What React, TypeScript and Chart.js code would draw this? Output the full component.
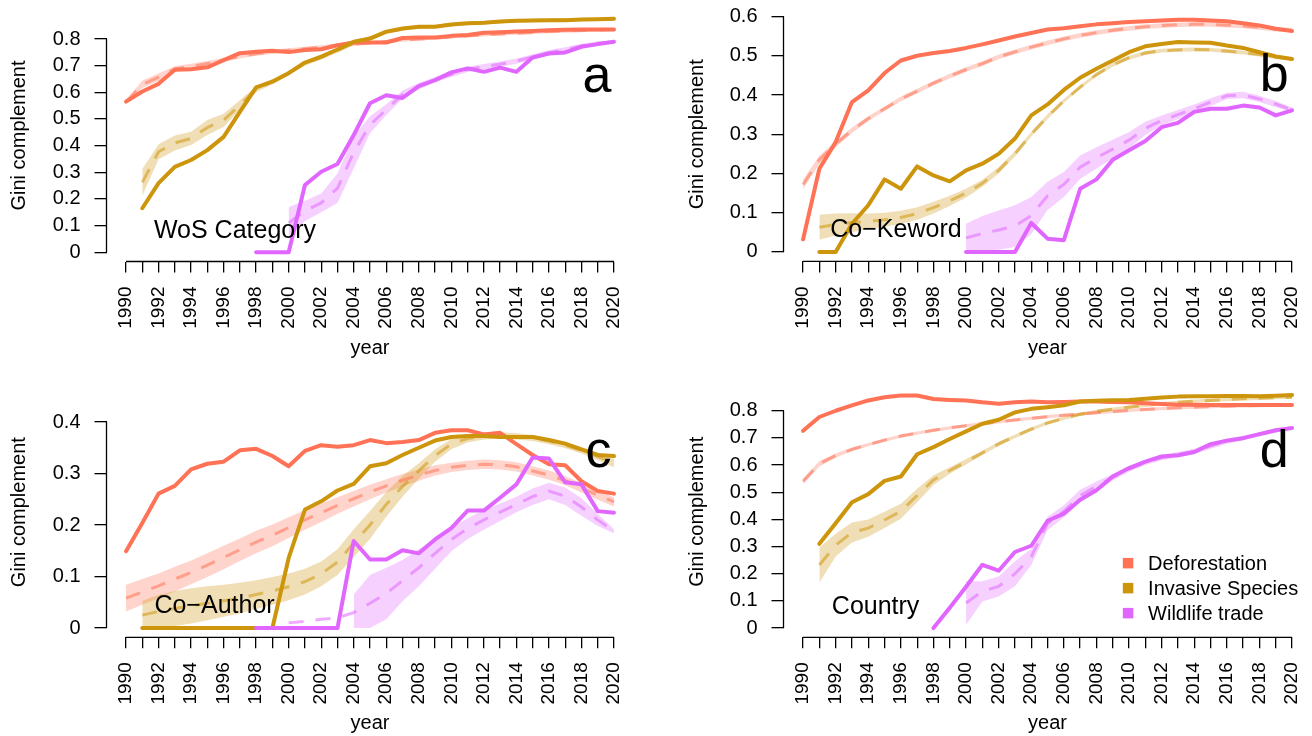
import React, { useEffect, useRef } from "react";
import { Chart, registerables } from "chart.js";

Chart.register(...registerables);

const FONT = "'Liberation Sans', Arimo, Arial, Helvetica, sans-serif";
const N = null;

const YEARS = [
  1990, 1991, 1992, 1993, 1994, 1995, 1996, 1997, 1998, 1999,
  2000, 2001, 2002, 2003, 2004, 2005, 2006, 2007, 2008, 2009,
  2010, 2011, 2012, 2013, 2014, 2015, 2016, 2017, 2018, 2019, 2020,
];

const SERIES_NAMES = ["Deforestation", "Invasive Species", "Wildlife trade"];
const SERIES_COLORS = ["#FF7256", "#CD950C", "#E066FF"];

const Y_TICKS_A = [0, 0.1, 0.2, 0.3, 0.4, 0.5, 0.6, 0.7, 0.8];
const Y_TICKS_B = [0, 0.1, 0.2, 0.3, 0.4, 0.5, 0.6];
const Y_TICKS_C = [0, 0.1, 0.2, 0.3, 0.4];
const Y_TICKS_D = [0, 0.1, 0.2, 0.3, 0.4, 0.5, 0.6, 0.7, 0.8];

// ---------- Panel a : WoS Category ----------
const aDefor = [0.565, 0.603, 0.632, 0.685, 0.687, 0.694, 0.721, 0.747, 0.752, 0.756,
  0.751, 0.759, 0.762, 0.777, 0.787, 0.787, 0.787, 0.804, 0.806, 0.806,
  0.812, 0.815, 0.824, 0.826, 0.828, 0.830, 0.833, 0.835, 0.836, 0.836, 0.836];
const aDeforFit = [0.565, 0.630, 0.657, 0.688, 0.697, 0.708, 0.722, 0.735, 0.745, 0.752,
  0.758, 0.764, 0.770, 0.776, 0.781, 0.786, 0.791, 0.796, 0.800, 0.804,
  0.808, 0.812, 0.816, 0.819, 0.822, 0.825, 0.828, 0.830, 0.832, 0.834, 0.836];
const aDeforHw = [0.004, 0.014, 0.014, 0.010, 0.010, 0.010, 0.008, 0.008, 0.008, 0.008,
  0.008, 0.007, 0.007, 0.007, 0.007, 0.006, 0.006, 0.006, 0.006, 0.006,
  0.006, 0.006, 0.006, 0.006, 0.006, 0.006, 0.006, 0.006, 0.006, 0.006, 0.006];
const aInv = [N, 0.165, 0.259, 0.320, 0.346, 0.383, 0.433, 0.527, 0.619, 0.640,
  0.672, 0.712, 0.734, 0.761, 0.790, 0.802, 0.828, 0.840, 0.846, 0.846,
  0.855, 0.859, 0.861, 0.866, 0.869, 0.870, 0.871, 0.871, 0.873, 0.874, 0.876];
const aInvFit = [N, 0.262, 0.377, 0.410, 0.427, 0.468, 0.495, 0.552, 0.612, 0.640,
  0.674, 0.708, 0.731, 0.757, 0.785, 0.803, 0.826, 0.838, 0.845, 0.848,
  0.854, 0.858, 0.861, 0.865, 0.868, 0.870, 0.871, 0.872, 0.873, 0.874, 0.876];
const aInvHw = [N, 0.050, 0.028, 0.028, 0.025, 0.028, 0.025, 0.018, 0.012, 0.010,
  0.008, 0.008, 0.008, 0.008, 0.008, 0.008, 0.007, 0.007, 0.006, 0.006,
  0.006, 0.006, 0.006, 0.006, 0.006, 0.006, 0.006, 0.006, 0.006, 0.006, 0.006];
const aWild = [N, N, N, N, N, N, N, N, 0, 0,
  0, 0.252, 0.302, 0.331, 0.440, 0.559, 0.589, 0.579, 0.623, 0.646,
  0.675, 0.690, 0.677, 0.693, 0.677, 0.731, 0.746, 0.750, 0.771, 0.781, 0.790];
const aWildFit = [N, N, N, N, N, N, N, N, N, N,
  0.110, 0.155, 0.185, 0.240, 0.375, 0.478, 0.535, 0.592, 0.623, 0.648,
  0.668, 0.686, 0.696, 0.706, 0.717, 0.733, 0.749, 0.761, 0.774, 0.784, 0.790];
const aWildHw = [N, N, N, N, N, N, N, N, N, N,
  0.060, 0.038, 0.035, 0.055, 0.060, 0.032, 0.020, 0.015, 0.012, 0.010,
  0.010, 0.010, 0.010, 0.010, 0.010, 0.010, 0.010, 0.008, 0.008, 0.008, 0.006];

// ---------- Panel b : Co-Keword ----------
const bDefor = [0.032, 0.212, 0.280, 0.382, 0.412, 0.456, 0.488, 0.500, 0.507, 0.512,
  0.520, 0.529, 0.539, 0.549, 0.558, 0.567, 0.570, 0.575, 0.580, 0.583,
  0.586, 0.588, 0.590, 0.592, 0.592, 0.590, 0.588, 0.583, 0.577, 0.569, 0.563];
const bDeforFit = [0.172, 0.235, 0.275, 0.310, 0.340, 0.365, 0.390, 0.410, 0.430, 0.448,
  0.465, 0.480, 0.497, 0.510, 0.522, 0.533, 0.543, 0.552, 0.559, 0.565,
  0.570, 0.574, 0.577, 0.579, 0.580, 0.580, 0.578, 0.576, 0.572, 0.568, 0.565];
const bDeforHw = [0.012, 0.010, 0.008, 0.007, 0.006, 0.006, 0.006, 0.006, 0.006, 0.006,
  0.006, 0.006, 0.006, 0.006, 0.006, 0.006, 0.006, 0.006, 0.006, 0.006,
  0.006, 0.006, 0.006, 0.006, 0.006, 0.006, 0.006, 0.006, 0.006, 0.006, 0.006];
const bInv = [N, 0, 0, 0.072, 0.119, 0.185, 0.161, 0.218, 0.195, 0.180,
  0.208, 0.225, 0.250, 0.289, 0.348, 0.376, 0.413, 0.444, 0.467, 0.488,
  0.509, 0.524, 0.530, 0.535, 0.534, 0.533, 0.526, 0.520, 0.509, 0.498, 0.492];
const bInvFit = [N, 0.063, 0.070, 0.075, 0.078, 0.082, 0.088, 0.098, 0.113, 0.130,
  0.150, 0.175, 0.208, 0.250, 0.300, 0.345, 0.385, 0.420, 0.452, 0.477,
  0.495, 0.507, 0.513, 0.515, 0.516, 0.515, 0.512, 0.508, 0.503, 0.497, 0.492];
const bInvHw = [N, 0.032, 0.028, 0.024, 0.020, 0.018, 0.017, 0.016, 0.015, 0.013,
  0.011, 0.009, 0.008, 0.007, 0.006, 0.006, 0.005, 0.005, 0.005, 0.005,
  0.005, 0.005, 0.005, 0.005, 0.005, 0.005, 0.005, 0.005, 0.005, 0.005, 0.005];
const bWild = [N, N, N, N, N, N, N, N, N, N,
  0, 0, 0, 0, 0.074, 0.034, 0.030, 0.161, 0.185, 0.235,
  0.259, 0.283, 0.318, 0.329, 0.357, 0.365, 0.365, 0.373, 0.368, 0.348, 0.361];
const bWildFit = [N, N, N, N, N, N, N, N, N, N,
  0.036, 0.047, 0.056, 0.066, 0.093, 0.143, 0.172, 0.216, 0.240, 0.262,
  0.285, 0.315, 0.335, 0.350, 0.365, 0.382, 0.398, 0.400, 0.390, 0.377, 0.362];
const bWildHw = [N, N, N, N, N, N, N, N, N, N,
  0.036, 0.045, 0.050, 0.053, 0.047, 0.036, 0.032, 0.030, 0.027, 0.024,
  0.021, 0.017, 0.013, 0.012, 0.011, 0.010, 0.008, 0.008, 0.008, 0.008, 0.006];

// ---------- Panel c : Co-Author ----------
const cDefor = [0.149, 0.204, 0.261, 0.276, 0.308, 0.319, 0.323, 0.345, 0.348, 0.334,
  0.314, 0.344, 0.355, 0.352, 0.355, 0.365, 0.359, 0.361, 0.365, 0.379,
  0.384, 0.384, 0.376, 0.379, 0.357, 0.336, 0.318, 0.316, 0.285, 0.266, 0.261];
const cDeforFit = [0.058, 0.070, 0.082, 0.095, 0.108, 0.122, 0.137, 0.152, 0.167, 0.180,
  0.195, 0.210, 0.224, 0.238, 0.251, 0.264, 0.276, 0.287, 0.297, 0.306,
  0.312, 0.316, 0.318, 0.317, 0.313, 0.305, 0.297, 0.286, 0.272, 0.258, 0.245];
const cDeforHw = [0.026, 0.025, 0.024, 0.024, 0.023, 0.023, 0.023, 0.022, 0.022, 0.021,
  0.020, 0.019, 0.018, 0.016, 0.015, 0.014, 0.013, 0.012, 0.011, 0.010,
  0.009, 0.009, 0.009, 0.009, 0.009, 0.009, 0.009, 0.009, 0.009, 0.009, 0.009];
const cInv = [N, 0, 0, 0, 0, 0, 0, 0, 0, 0,
  0.136, 0.230, 0.246, 0.267, 0.280, 0.314, 0.320, 0.336, 0.350, 0.364,
  0.371, 0.373, 0.373, 0.371, 0.371, 0.371, 0.365, 0.358, 0.347, 0.336, 0.334];
const cInvFit = [N, 0.025, 0.032, 0.038, 0.043, 0.048, 0.053, 0.058, 0.065, 0.072,
  0.080, 0.090, 0.105, 0.128, 0.165, 0.200, 0.240, 0.275, 0.305, 0.335,
  0.357, 0.368, 0.373, 0.374, 0.372, 0.369, 0.363, 0.355, 0.345, 0.333, 0.320];
const cInvHw = [N, 0.028, 0.032, 0.034, 0.034, 0.033, 0.031, 0.030, 0.028, 0.027,
  0.026, 0.025, 0.024, 0.025, 0.027, 0.027, 0.024, 0.020, 0.015, 0.012,
  0.010, 0.008, 0.007, 0.006, 0.006, 0.006, 0.006, 0.006, 0.006, 0.007, 0.008];
const cWild = [N, N, N, N, N, N, N, N, 0, 0,
  0, 0, 0, 0, 0.169, 0.133, 0.133, 0.151, 0.145, 0.172,
  0.194, 0.228, 0.228, 0.253, 0.279, 0.331, 0.329, 0.283, 0.279, 0.227, 0.224];
const cWildFit = [N, N, N, N, N, N, N, N, N, N,
  0.010, 0.013, 0.017, 0.020, 0.030, 0.048, 0.067, 0.092, 0.117, 0.145,
  0.172, 0.193, 0.210, 0.225, 0.240, 0.255, 0.266, 0.256, 0.235, 0.210, 0.188];
const cWildHw = [N, N, N, N, N, N, N, N, N, N,
  N, N, N, N, 0.035, 0.055, 0.050, 0.040, 0.036, 0.030,
  0.023, 0.020, 0.019, 0.017, 0.015, 0.016, 0.016, 0.017, 0.017, 0.012, 0.004];

// ---------- Panel d : Country ----------
const dDefor = [0.726, 0.777, 0.800, 0.820, 0.838, 0.850, 0.856, 0.856, 0.843, 0.840,
  0.838, 0.831, 0.826, 0.831, 0.834, 0.831, 0.832, 0.834, 0.834, 0.832,
  0.831, 0.828, 0.825, 0.822, 0.822, 0.821, 0.821, 0.821, 0.821, 0.821, 0.821];
const dDeforFit = [0.540, 0.605, 0.635, 0.658, 0.675, 0.692, 0.707, 0.718, 0.728, 0.737,
  0.745, 0.752, 0.759, 0.766, 0.772, 0.778, 0.783, 0.788, 0.793, 0.797,
  0.801, 0.805, 0.808, 0.811, 0.813, 0.815, 0.817, 0.818, 0.819, 0.820, 0.821];
const dDeforHw = [0.010, 0.010, 0.008, 0.007, 0.006, 0.006, 0.006, 0.006, 0.006, 0.006,
  0.006, 0.006, 0.006, 0.006, 0.006, 0.006, 0.006, 0.006, 0.006, 0.006,
  0.006, 0.006, 0.006, 0.006, 0.006, 0.006, 0.006, 0.006, 0.006, 0.006, 0.006];
const dInv = [N, 0.310, 0.386, 0.463, 0.493, 0.542, 0.558, 0.640, 0.666, 0.696,
  0.724, 0.752, 0.767, 0.794, 0.807, 0.813, 0.820, 0.834, 0.837, 0.839,
  0.840, 0.844, 0.849, 0.852, 0.853, 0.853, 0.854, 0.854, 0.853, 0.855, 0.858];
const dInvFit = [N, 0.232, 0.305, 0.352, 0.368, 0.398, 0.430, 0.488, 0.545, 0.580,
  0.612, 0.645, 0.678, 0.706, 0.732, 0.755, 0.772, 0.787, 0.798, 0.806,
  0.813, 0.820, 0.826, 0.831, 0.835, 0.838, 0.841, 0.844, 0.846, 0.848, 0.850];
const dInvHw = [N, 0.065, 0.042, 0.037, 0.032, 0.030, 0.028, 0.025, 0.018, 0.012,
  0.010, 0.008, 0.008, 0.007, 0.007, 0.006, 0.006, 0.006, 0.006, 0.006,
  0.006, 0.006, 0.006, 0.006, 0.006, 0.006, 0.006, 0.006, 0.006, 0.006, 0.006];
const dWild = [N, N, N, N, N, N, N, N, 0, 0.075,
  0.152, 0.233, 0.211, 0.280, 0.303, 0.395, 0.421, 0.472, 0.507, 0.558,
  0.589, 0.613, 0.632, 0.636, 0.648, 0.677, 0.690, 0.699, 0.714, 0.728, 0.736];
const dWildFit = [N, N, N, N, N, N, N, N, N, N,
  0.092, 0.135, 0.153, 0.200, 0.262, 0.385, 0.430, 0.487, 0.522, 0.555,
  0.585, 0.610, 0.628, 0.638, 0.650, 0.670, 0.688, 0.700, 0.713, 0.727, 0.738];
const dWildHw = [N, N, N, N, N, N, N, N, N, N,
  0.080, 0.037, 0.037, 0.046, 0.030, 0.025, 0.022, 0.022, 0.018, 0.012,
  0.010, 0.010, 0.010, 0.010, 0.010, 0.010, 0.010, 0.008, 0.008, 0.008, 0.006];

type Vals = (number | null)[];

interface Panel {
  key: string;
  letter: string;
  label: string;
  left: number;
  top: number;
  width: number;
  height: number;
  chartLeft: number;
  chartRight: number;
  chartTop: number;
  chartBottom: number;
  yMin: number;
  yMax: number;
  yTicks: number[];
  solid: Vals[];
  fit: Vals[];
  hw: Vals[];
  labelAt: [number, number];
  letterAt: [number, number];
  legendAt?: [number, number];
  yTitlePad: number;
  xTitlePad: number;
}

const PANELS: Panel[] = [
  {
    key: "a", letter: "a", label: "WoS Category",
    left: 0, top: 0, width: 656, height: 368,
    chartLeft: 106.5, chartRight: 633.5, chartTop: 9.5, chartBottom: 261.5,
    yMin: -0.035, yMax: 0.911, yTicks: Y_TICKS_A,
    solid: [aDefor, aInv, aWild], fit: [aDeforFit, aInvFit, aWildFit], hw: [aDeforHw, aInvHw, aWildHw],
    labelAt: [1996.7, 0.08], letterAt: [2018.95, 0.6],
    yTitlePad: 7.5, xTitlePad: 8,
  },
  {
    key: "b", letter: "b", label: "Co\u2212Keword",
    left: 656, top: 0, width: 656, height: 368,
    chartLeft: 127.5, chartRight: 655.6, chartTop: 7.1, chartBottom: 261.4,
    yMin: -0.024, yMax: 0.624, yTicks: Y_TICKS_B,
    solid: [bDefor, bInv, bWild], fit: [bDeforFit, bInvFit, bWildFit], hw: [bDeforHw, bInvHw, bWildHw],
    labelAt: [1995.7, 0.056], letterAt: [2018.9, 0.41],
    yTitlePad: 29.5, xTitlePad: 8,
  },
  {
    key: "c", letter: "c", label: "Co\u2212Author",
    left: 0, top: 368, width: 656, height: 376,
    chartLeft: 106.5, chartRight: 633.5, chartTop: 19.0, chartBottom: 269.3,
    yMin: -0.018, yMax: 0.468, yTicks: Y_TICKS_C,
    solid: [cDefor, cInv, cWild], fit: [cDeforFit, cInvFit, cWildFit], hw: [cDeforHw, cInvHw, cWildHw],
    labelAt: [1995.44, 0.043], letterAt: [2019.05, 0.3126],
    yTitlePad: 7.9, xTitlePad: 9,
  },
  {
    key: "d", letter: "d", label: "Country",
    left: 656, top: 368, width: 656, height: 376,
    chartLeft: 127.5, chartRight: 655.6, chartTop: 18.3, chartBottom: 269.3,
    yMin: -0.034, yMax: 0.89, yTicks: Y_TICKS_D,
    solid: [dDefor, dInv, dWild], fit: [dDeforFit, dInvFit, dWildFit], hw: [dDeforHw, dInvHw, dWildHw],
    labelAt: [1994.45, 0.077], letterAt: [2018.9, 0.593], legendAt: [2009.94, 0.239],
    yTitlePad: 29.8, xTitlePad: 9,
  },
];

function rgba(hex: string, a: number) {
  const n = parseInt(hex.slice(1), 16);
  return `rgba(${(n >> 16) & 255},${(n >> 8) & 255},${n & 255},${a})`;
}

function toPoints(vals: Vals) {
  const out: { x: number; y: number }[] = [];
  vals.forEach((v, i) => {
    if (v !== null) out.push({ x: YEARS[i], y: v });
  });
  return out;
}

function bandPoints(fit: Vals, hw: Vals, upper: boolean) {
  const out: { x: number; y: number }[] = [];
  fit.forEach((v, i) => {
    const h = hw[i];
    if (v !== null && h !== null) {
      out.push({ x: YEARS[i], y: upper ? v + h : Math.max(0, v - h) });
    }
  });
  return out;
}

function makeAnnotate(p: Panel) {
  return {
    id: "annotate_" + p.key,
    afterDraw(chart: any) {
      const { ctx, chartArea } = chart;
      const xs = chart.scales.x;
      const ys = chart.scales.y;
      ctx.save();
      // R-style axis lines spanning first..last tick
      ctx.strokeStyle = "#000";
      ctx.lineWidth = 1.3;
      ctx.beginPath();
      ctx.moveTo(xs.getPixelForValue(YEARS[0]), chartArea.bottom);
      ctx.lineTo(xs.getPixelForValue(YEARS[YEARS.length - 1]), chartArea.bottom);
      ctx.moveTo(chartArea.left, ys.getPixelForValue(p.yTicks[0]));
      ctx.lineTo(chartArea.left, ys.getPixelForValue(p.yTicks[p.yTicks.length - 1]));
      ctx.stroke();

      ctx.fillStyle = "#000";
      // panel label
      ctx.font = `25px ${FONT}`;
      ctx.textAlign = "center";
      ctx.textBaseline = "middle";
      ctx.fillText(p.label, xs.getPixelForValue(p.labelAt[0]), ys.getPixelForValue(p.labelAt[1]));

      // panel letter
      ctx.font = `52px ${FONT}`;
      ctx.textBaseline = "alphabetic";
      ctx.fillText(p.letter, xs.getPixelForValue(p.letterAt[0]), ys.getPixelForValue(p.letterAt[1]));

      // legend
      if (p.legendAt) {
        const lx = xs.getPixelForValue(p.legendAt[0]);
        const ly = ys.getPixelForValue(p.legendAt[1]);
        ctx.font = `20px ${FONT}`;
        ctx.textAlign = "left";
        ctx.textBaseline = "middle";
        SERIES_NAMES.forEach((name, i) => {
          const cy = ly + i * 25;
          ctx.fillStyle = SERIES_COLORS[i];
          ctx.fillRect(lx - 5.25, cy - 5.25, 10.5, 10.5);
          ctx.fillStyle = "#000";
          ctx.fillText(name, lx + 20, cy + 1);
        });
      }
      ctx.restore();
    },
  };
}

function PanelChart({ p }: { p: Panel }) {
  const ref = useRef<HTMLCanvasElement>(null);
  useEffect(() => {
    if (!ref.current) return;
    const order = [2, 1, 0];
    const datasets: any[] = [];
    for (const s of order) {
      datasets.push({
        data: toPoints(p.solid[s]),
        borderColor: SERIES_COLORS[s],
        borderWidth: 4,
        borderJoinStyle: "round",
        borderCapStyle: "round",
        pointRadius: 0,
        fill: false,
        tension: 0,
      });
    }
    for (const s of order) {
      datasets.push({
        data: toPoints(p.fit[s]),
        borderColor: rgba(SERIES_COLORS[s], 0.55),
        borderWidth: 3,
        borderDash: [15, 12],
        borderCapStyle: "butt",
        pointRadius: 0,
        fill: false,
        tension: 0,
      });
    }
    for (const s of order) {
      datasets.push({
        data: bandPoints(p.fit[s], p.hw[s], true),
        borderColor: "rgba(0,0,0,0)",
        borderWidth: 0,
        backgroundColor: rgba(SERIES_COLORS[s], 0.3),
        pointRadius: 0,
        fill: "+1",
        tension: 0,
      });
      datasets.push({
        data: bandPoints(p.fit[s], p.hw[s], false),
        borderColor: "rgba(0,0,0,0)",
        borderWidth: 0,
        pointRadius: 0,
        fill: false,
        tension: 0,
      });
    }

    const tickGrid = {
      display: true,
      drawOnChartArea: false,
      drawTicks: true,
      color: "#000",
      lineWidth: 1.3,
    };

    const chart = new Chart(ref.current, {
      type: "line",
      data: { datasets },
      options: {
        animation: false,
        responsive: false,
        maintainAspectRatio: false,
        events: [],
        layout: {
          padding: { left: 0, top: p.chartTop, right: p.width - p.chartRight, bottom: 0 },
        },
        plugins: {
          legend: { display: false },
          tooltip: { enabled: false },
        },
        scales: {
          x: {
            type: "linear",
            min: 1988.8,
            max: 2021.2,
            afterBuildTicks: (s: any) => {
              s.ticks = YEARS.map((v) => ({ value: v }));
            },
            afterFit: (s: any) => {
              s.height = p.height - p.chartBottom;
              s.paddingLeft = 0;
              s.paddingRight = 0;
            },
            ticks: {
              autoSkip: false,
              minRotation: 90,
              maxRotation: 90,
              padding: 14,
              color: "#000",
              font: { family: FONT, size: 19 },
              callback: (v: any) => (Number(v) % 2 === 0 ? String(v) : ""),
            },
            grid: { ...tickGrid, tickLength: 11 },
            border: { display: false },
            title: {
              display: true,
              text: "year",
              color: "#000",
              font: { family: FONT, size: 20 },
              padding: { top: 0, bottom: p.xTitlePad },
            },
          },
          y: {
            type: "linear",
            min: p.yMin,
            max: p.yMax,
            afterBuildTicks: (s: any) => {
              s.ticks = p.yTicks.map((v) => ({ value: v }));
            },
            afterFit: (s: any) => {
              s.width = p.chartLeft;
              s.paddingTop = 0;
              s.paddingBottom = 0;
            },
            ticks: {
              padding: 14,
              color: "#000",
              font: { family: FONT, size: 20 },
              callback: (v: any) => String(Number(Number(v).toFixed(2))),
            },
            grid: { ...tickGrid, tickLength: 12 },
            border: { display: false },
            title: {
              display: true,
              text: "Gini complement",
              color: "#000",
              font: { family: FONT, size: 20 },
              padding: { top: p.yTitlePad, bottom: 0 },
            },
          },
        },
      } as any,
      plugins: [makeAnnotate(p)],
    });
    return () => chart.destroy();
  }, [p]);

  return (
    <canvas
      ref={ref}
      width={p.width}
      height={p.height}
      style={{
        position: "absolute",
        left: p.left,
        top: p.top,
        width: p.width,
        height: p.height,
      }}
    />
  );
}

export default function App() {
  return (
    <div
      style={{
        position: "absolute",
        left: 0,
        top: 0,
        width: 1312,
        height: 736,
        overflow: "hidden",
        background: "#fff",
      }}
    >
      {PANELS.map((p) => (
        <PanelChart key={p.key} p={p} />
      ))}
    </div>
  );
}
